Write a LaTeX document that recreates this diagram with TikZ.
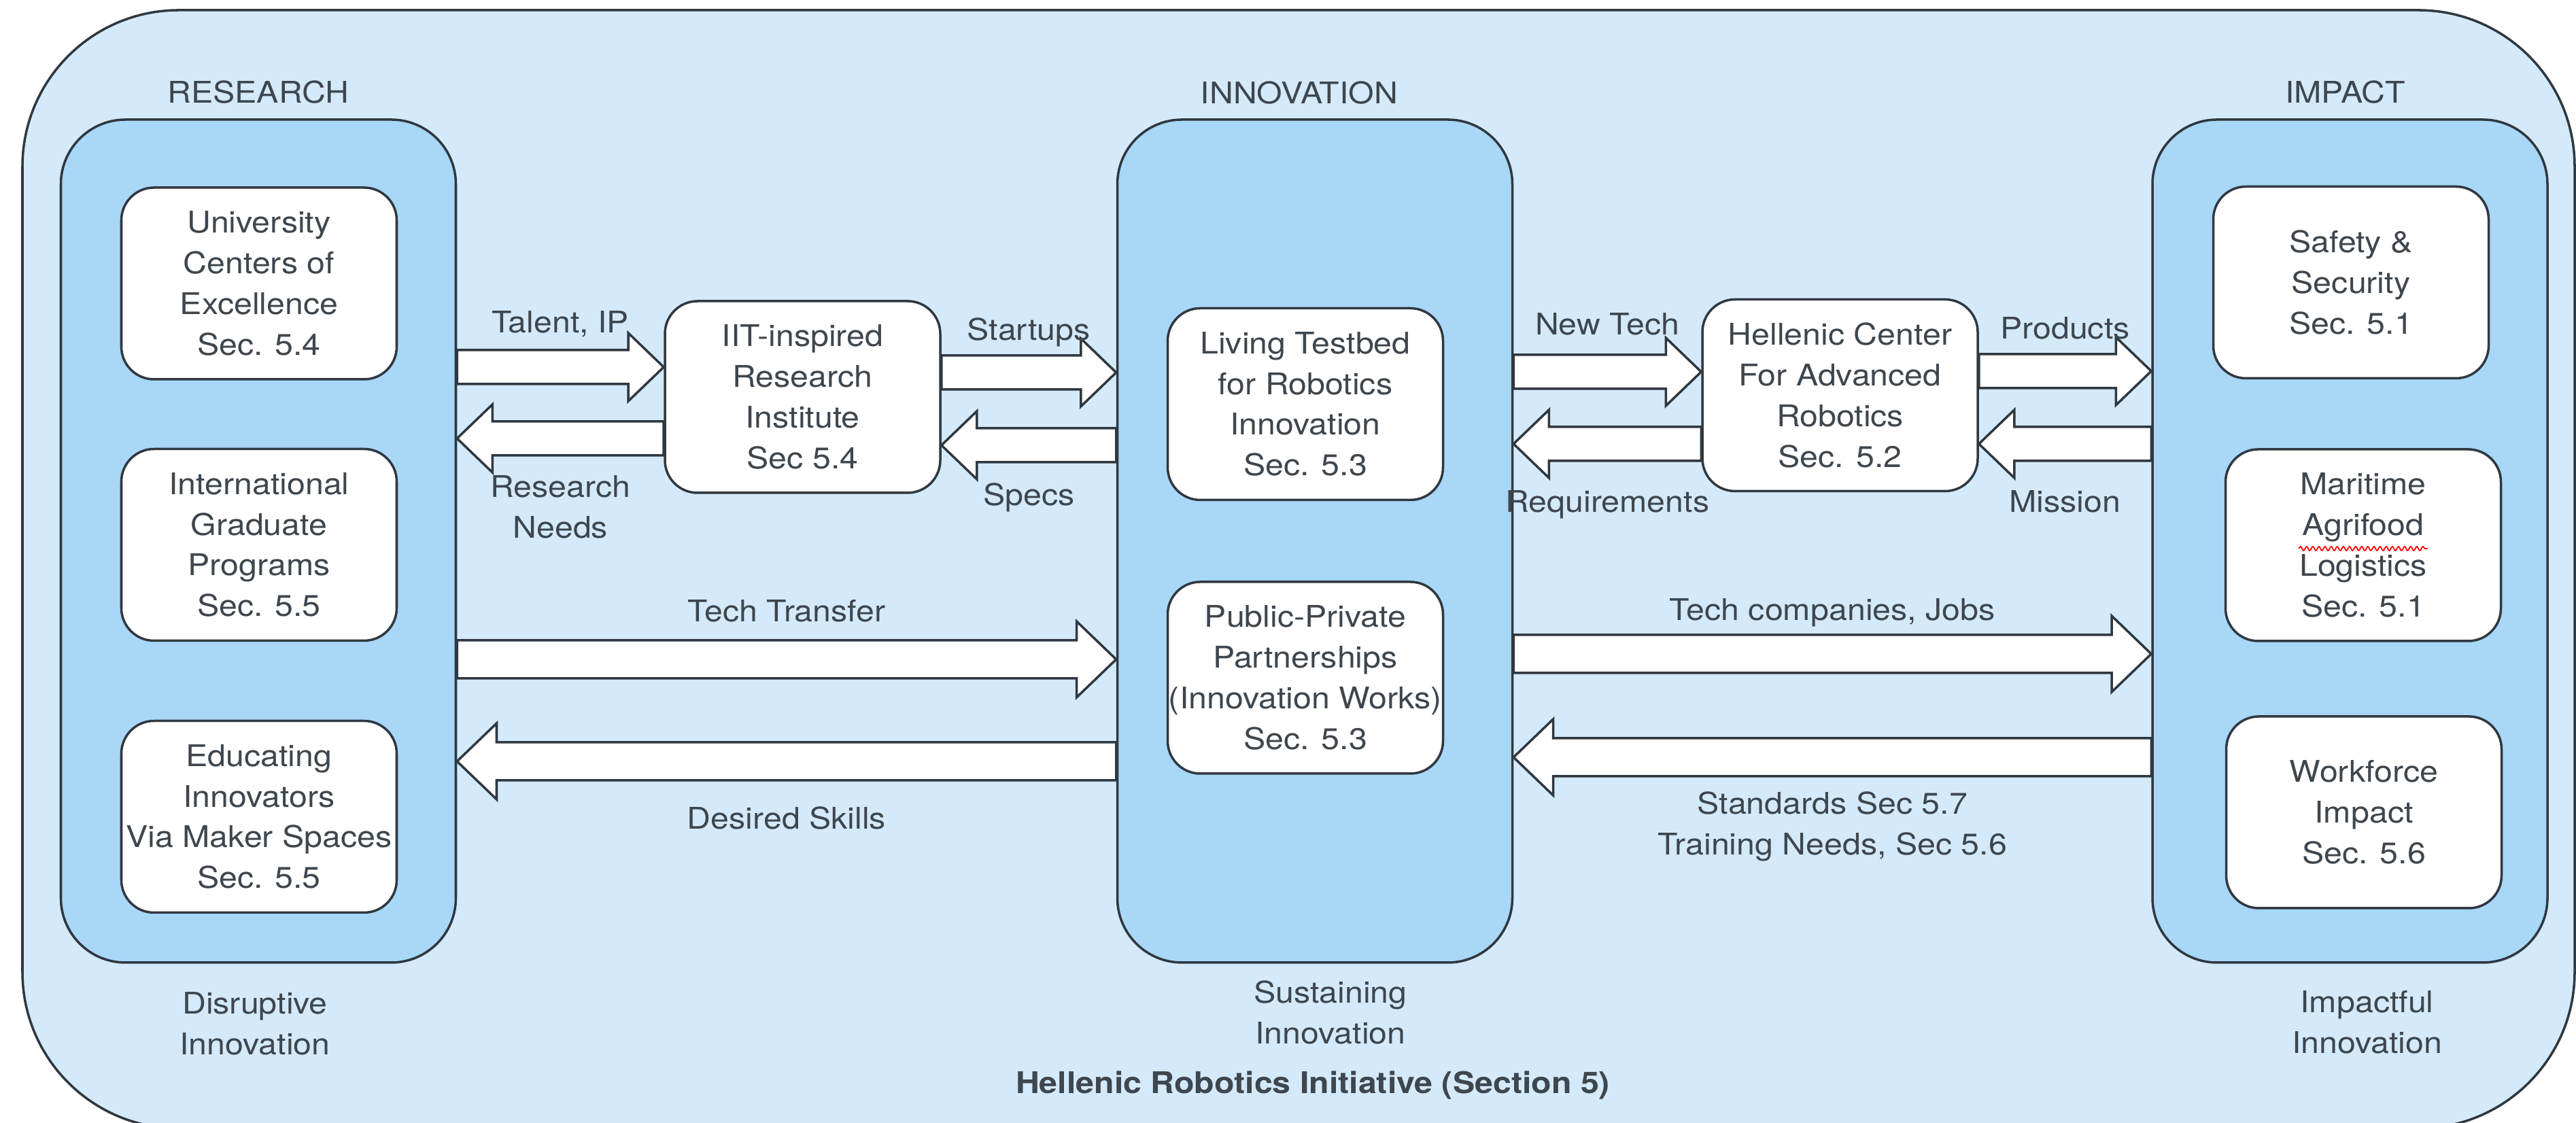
\documentclass[tikz,border=0pt]{standalone}
\usepackage{fontspec}
\setmainfont{TeX Gyre Heros}[FakeStretch=1.1]
\usepackage{tikz}
\usetikzlibrary{positioning,calc,decorations.pathmorphing}

\definecolor{framefill}{RGB}{212,234,251}
\definecolor{colfill}{RGB}{168,215,248}
\definecolor{edgegray}{RGB}{48,56,64}
\definecolor{ink}{RGB}{62,70,78}

\tikzset{
    txt/.style={font=\fontsize{12.5}{17}\selectfont, text=ink},
    colbox/.style={draw=edgegray, line width=1pt, fill=colfill, rounded corners=0.95cm,
        minimum width=5.81cm, minimum height=12.40cm},
    block/.style={txt, draw=edgegray, line width=1pt, fill=white, rounded corners=0.48cm,
        minimum width=4.05cm, minimum height=2.82cm, align=center, inner sep=0pt},
    lbl/.style={txt, align=center, inner sep=0pt},
    fat/.style={draw=edgegray, line width=1pt, fill=white, line join=miter},
}

% block arrow: [size] from, to, height, name of its middle
\newcommand{\fatarrow}[5][1]{%
    \draw[fat] let \p1=(#2), \p2=(#3), \n1={ifthenelse(\x2>\x1,1,-1)} in
        (\x1,{(#4+0.25*#1)*1cm})
        -- ({\x2-(\n1)*0.52*#1*1cm},{(#4+0.25*#1)*1cm})
        -- ({\x2-(\n1)*0.52*#1*1cm},{(#4+0.5*#1)*1cm})
        -- (\x2,{#4*1cm})
        -- ({\x2-(\n1)*0.52*#1*1cm},{(#4-0.5*#1)*1cm})
        -- ({\x2-(\n1)*0.52*#1*1cm},{(#4-0.25*#1)*1cm})
        -- (\x1,{(#4-0.25*#1)*1cm}) -- cycle
        coordinate (#5) at ({(\x1+\x2)/2},{#4*1cm});}

\begin{document}
\begin{tikzpicture}
    \useasboundingbox (0,0) rectangle (37.89,16.52);
    \draw[draw=edgegray, line width=1pt, fill=framefill, rounded corners=2.3cm]
        (0.33,-0.08) rectangle (37.87,16.37);

    % the three columns
    \node[colbox] (resCol) at (3.80,8.56) {};
    \node[colbox] (innCol) at (19.34,8.56) {};
    \node[colbox] (impCol) at (34.565,8.56) {};

    \node[lbl, above=0.21cm of resCol] (resHead) {RESEARCH};
    \node[lbl, above=0.20cm of innCol, xshift=-0.23cm] (innHead) {INNOVATION};
    \node[lbl, above=0.21cm of impCol, xshift=-0.07cm] (impHead) {IMPACT};
    \node[lbl, below=0.41cm of resCol, xshift=-0.05cm] (resFoot) {Disruptive\\Innovation};
    \node[lbl, below=0.24cm of innCol, xshift=0.23cm] (innFoot) {Sustaining\\Innovation};
    \node[lbl, below=0.39cm of impCol, xshift=0.25cm] (impFoot) {Impactful\\Innovation};
    \node[lbl, font=\fontsize{12.5}{17}\selectfont\bfseries, anchor=base] (title)
        at (19.31,0.43) {Hellenic Robotics Initiative (Section 5)};

    \node[block] (uni) at (3.81,12.35) {University\\Centers of\\Excellence\\Sec. 5.4};
    \node[block] (intl) at (3.81,8.505) {International\\Graduate\\Programs\\Sec. 5.5};
    \node[block] (edu) at (3.81,4.505) {Educating\\Innovators\\Via Maker Spaces\\Sec. 5.5};
    \node[block] (iit) at (11.805,10.68) {IIT-inspired\\Research\\Institute\\Sec 5.4};
    \node[block] (testbed) at (19.20,10.575) {Living Testbed\\for Robotics\\Innovation\\Sec. 5.3};
    \node[block] (ppp) at (19.20,6.55) {Public-Private\\Partnerships\\(Innovation Works)\\Sec. 5.3};
    \node[block] (hcar) at (27.065,10.705) {Hellenic Center\\For Advanced\\Robotics\\Sec. 5.2};
    \node[block] (safety) at (34.58,12.365) {Safety \&\\Security\\Sec. 5.1};
    \node[block] (maritime) at (34.76,8.50) {Maritime\\Agrifood\\Logistics\\Sec. 5.1};
    \node[block] (workforce) at (34.77,4.57) {Workforce\\Impact\\Sec. 5.6};
    \draw[red, line width=0.5pt, decorate, decoration={snake, amplitude=0.03cm, segment length=0.09cm}]
        ([xshift=-0.95cm,yshift=-0.05cm]maritime.center) -- ([xshift=0.95cm,yshift=-0.05cm]maritime.center);

    % arrows
    \fatarrow{resCol.east}{iit.west}{11.12}{talentA}
    \fatarrow{iit.west}{resCol.east}{10.07}{needsA}
    \fatarrow{iit.east}{innCol.west}{11.04}{startA}
    \fatarrow{innCol.west}{iit.east}{9.97}{specsA}
    \fatarrow{innCol.east}{hcar.west}{11.05}{techA}
    \fatarrow{hcar.west}{innCol.east}{9.99}{reqA}
    \fatarrow{hcar.east}{impCol.west}{11.06}{prodA}
    \fatarrow{impCol.west}{hcar.east}{9.99}{missA}
    \fatarrow[1.12]{resCol.east}{innCol.west}{6.82}{transA}
    \fatarrow[1.12]{innCol.west}{resCol.east}{5.32}{skillsA}
    \fatarrow[1.12]{innCol.east}{impCol.west}{6.90}{jobsA}
    \fatarrow[1.12]{impCol.west}{innCol.east}{5.38}{stdA}

    \node[lbl, anchor=base] (talentLbl) at ([yshift=0.50cm]talentA) {Talent, IP};
    \node[lbl, anchor=north] (needsLbl) at ([yshift=-0.54cm]needsA) {Research\\Needs};
    \node[lbl, anchor=base] (startLbl) at ([yshift=0.47cm]startA) {Startups};
    \node[lbl, anchor=north] (specsLbl) at ([yshift=-0.55cm]specsA) {Specs};
    \node[lbl, anchor=base] (techLbl) at ([yshift=0.54cm]techA) {New Tech};
    \node[lbl, anchor=north] (reqLbl) at ([yshift=-0.68cm]reqA) {Requirements};
    \node[lbl, anchor=base] (prodLbl) at ([yshift=0.47cm]prodA) {Products};
    \node[lbl, anchor=north] (missLbl) at ([yshift=-0.68cm]missA) {Mission};
    \node[lbl, anchor=base] (transLbl) at ([yshift=0.55cm]transA) {Tech Transfer};
    \node[lbl, anchor=north] (skillsLbl) at ([yshift=-0.66cm]skillsA) {Desired Skills};
    \node[lbl, anchor=base] (jobsLbl) at ([yshift=0.49cm]jobsA) {Tech companies, Jobs};
    \node[lbl, anchor=north] (stdLbl) at ([yshift=-0.50cm]stdA) {Standards Sec 5.7\\Training Needs, Sec 5.6};
\end{tikzpicture}
\end{document}
